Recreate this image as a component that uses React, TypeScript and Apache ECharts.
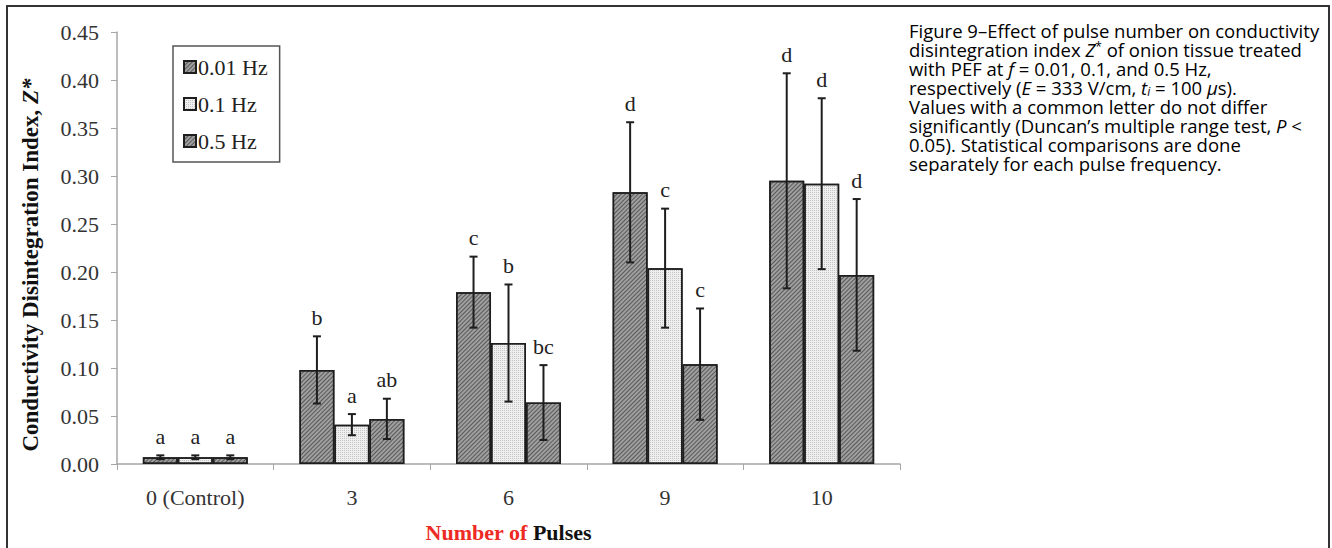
import React, { useEffect, useRef } from "react";
import * as echarts from "echarts";

const categories = ["0 (Control)", "3", "6", "9", "10"];
const seriesNames = ["0.01 Hz", "0.1 Hz", "0.5 Hz"];
const mean001 = [0.007, 0.098, 0.179, 0.283, 0.295];
const err001 = [0.002, 0.035, 0.037, 0.073, 0.112];
const mean01 = [0.007, 0.041, 0.126, 0.204, 0.292];
const err01 = [0.002, 0.011, 0.061, 0.062, 0.089];
const mean05 = [0.007, 0.047, 0.064, 0.104, 0.197];
const err05 = [0.002, 0.021, 0.039, 0.058, 0.079];
const letters001 = ["a", "b", "c", "d", "d"];
const letters01 = ["a", "a", "b", "c", "d"];
const letters05 = ["a", "ab", "bc", "c", "d"];
const yTicks = [0, 0.05, 0.1, 0.15, 0.2, 0.25, 0.3, 0.35, 0.4, 0.45];

const captionLines = [
  "Figure 9–Effect of pulse number on conductivity",
  "disintegration index {i|Z}{sup|*} of onion tissue treated",
  "with PEF at {i|f} = 0.01, 0.1, and 0.5 Hz,",
  "respectively ({i|E} = 333 V/cm, {i|t}{sub|i} = 100 {i|μ}s).",
  "Values with a common letter do not differ",
  "significantly (Duncan’s multiple range test, {i|P} <",
  "0.05). Statistical comparisons are done",
  "separately for each pulse frequency.",
];

const SERIF = "'Liberation Serif', 'Times New Roman', serif";
const SANS = "'Open Sans', 'Noto Sans', sans-serif";
const CAT_FRACTION = 0.67;

export default function App() {
  const ref = useRef<HTMLDivElement>(null);
  useEffect(() => {
    if (!ref.current) return;
    const chart = echarts.init(ref.current, null, { renderer: "svg" });
    const means = [mean001, mean01, mean05];
    const errs = [err001, err01, err05];
    const letters = [letters001, letters01, letters05];

    const darkDecal = {
      color: "rgba(30,30,30,0.55)",
      dashArrayX: [1, 0],
      dashArrayY: [1, 2],
      rotation: -Math.PI / 4,
      symbol: "rect",
      symbolSize: 1,
    };
    const lightDecal = {
      color: "rgba(0,0,0,0.18)",
      dashArrayX: [1, 1],
      dashArrayY: [1, 1],
      rotation: 0,
      symbol: "rect",
      symbolSize: 1,
    };
    const barColors = ["#9f9f9f", "#efefef", "#9f9f9f"];
    const decals = [darkDecal, lightDecal, darkDecal];

    const barSeries = seriesNames.map((name, s) => ({
      name,
      type: "bar",
      data: means[s],
      barGap: "0%",
      barCategoryGap: "33%",
      itemStyle: {
        color: barColors[s],
        borderColor: "#1e1e1e",
        borderWidth: 1.5,
        decal: decals[s],
      },
      z: 2,
    }));

    const errSeries = seriesNames.map((name, s) => ({
      name: name + " err",
      type: "custom",
      z: 5,
      data: categories.map((_, i) => [i, means[s][i], errs[s][i]]),
      renderItem: (params: any, api: any) => {
        const i = api.value(0);
        const mean = api.value(1);
        const err = api.value(2);
        const bandW = api.size([1, 0])[0];
        const bw = (bandW * CAT_FRACTION) / 3;
        const c = api.coord([i, mean]);
        const x = c[0] + (s - 1) * bw;
        const top = api.coord([i, mean + err])[1];
        const bot = api.coord([i, Math.max(0, mean - err)])[1];
        const cap = 4;
        const lineStyle = { stroke: "#1e1e1e", lineWidth: 2 };
        return {
          type: "group",
          children: [
            { type: "line", shape: { x1: x, y1: top, x2: x, y2: bot }, style: lineStyle },
            { type: "line", shape: { x1: x - cap, y1: top, x2: x + cap, y2: top }, style: lineStyle },
            { type: "line", shape: { x1: x - cap, y1: bot, x2: x + cap, y2: bot }, style: lineStyle },
            {
              type: "text",
              style: {
                text: letters[s][params.dataIndex],
                x,
                y: top - 8,
                align: "center",
                verticalAlign: "bottom",
                fontSize: 22,
                fontFamily: SERIF,
                fill: "#222",
              },
            },
          ],
        };
      },
    }));

    const capStyle = { fontSize: 18.5, lineHeight: 19, fontFamily: SANS, fill: "#000" };

    chart.setOption({
      animation: false,
      backgroundColor: "#ffffff",
      grid: { left: 117, right: 432, top: 32, bottom: 84, containLabel: false },
      legend: {
        data: seriesNames,
        orient: "vertical",
        left: 173,
        top: 46,
        padding: [10, 12, 10, 10],
        itemGap: 15,
        itemWidth: 12,
        itemHeight: 12,
        icon: "rect",
        borderColor: "#555",
        borderWidth: 1.5,
        textStyle: { fontSize: 22, fontFamily: SERIF, color: "#222", padding: [0, 0, 0, -3] },
      },
      xAxis: {
        type: "category",
        data: categories,
        axisLine: { lineStyle: { color: "#a6a6a6", width: 1.5 } },
        axisTick: { show: true, length: 6, lineStyle: { color: "#a6a6a6" } },
        axisLabel: { fontSize: 22, fontFamily: SERIF, color: "#333", margin: 22 },
        name: "{r|Number of }{b|Pulses}",
        nameLocation: "middle",
        nameGap: 57,
        nameTextStyle: {
          rich: {
            r: { fontSize: 22, fontWeight: "bold", fontFamily: SERIF, color: "#ee2a24" },
            b: { fontSize: 22, fontWeight: "bold", fontFamily: SERIF, color: "#111" },
          },
        },
      },
      yAxis: {
        type: "value",
        min: 0,
        max: 0.45,
        interval: 0.05,
        splitLine: { show: false },
        axisLine: { show: true, lineStyle: { color: "#a6a6a6", width: 1.5 } },
        axisTick: { show: true, length: 6, lineStyle: { color: "#a6a6a6" } },
        axisLabel: {
          fontSize: 22,
          fontFamily: SERIF,
          color: "#333",
          margin: 18,
          formatter: (v: number) => (yTicks.some((t) => Math.abs(t - v) < 1e-9) ? v.toFixed(2) : ""),
        },
      },
      graphic: [
        {
          type: "rect",
          shape: { x: 7, y: 6, width: 1322, height: 620 },
          style: { fill: "none", stroke: "#333", lineWidth: 2 },
          silent: true,
        },
        {
          type: "text",
          x: 30,
          y: 265,
          rotation: Math.PI / 2,
          style: {
            text: "Conductivity Disintegration Index, {i|Z*}",
            align: "center",
            verticalAlign: "middle",
            fontSize: 23,
            fontWeight: "bold",
            fontFamily: SERIF,
            fill: "#111",
            rich: {
              i: { fontSize: 23, fontWeight: "bold", fontStyle: "italic", fontFamily: SERIF, fill: "#111" },
            },
          },
        },
        {
          type: "text",
          x: 909,
          y: 21,
          style: {
            text: captionLines.join("\n"),
            ...capStyle,
            rich: {
              i: { ...capStyle, fontStyle: "italic" },
              sup: { ...capStyle, fontSize: 12, verticalAlign: "top" },
              sub: { ...capStyle, fontSize: 12, fontStyle: "italic", verticalAlign: "bottom" },
            },
          },
        },
      ],
      series: [...barSeries, ...errSeries],
    });
    return () => chart.dispose();
  }, []);
  return (
    <div
      ref={ref}
      style={{ position: "absolute", left: 0, top: 0, width: 1332, height: 548 }}
    />
  );
}
